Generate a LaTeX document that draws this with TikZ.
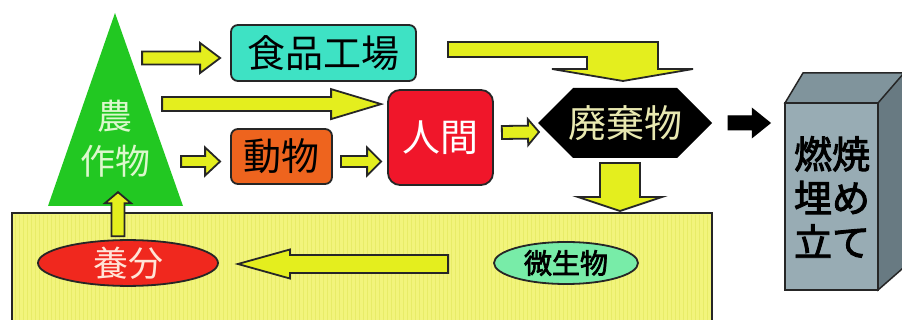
\documentclass[tikz,border=0pt]{standalone}
\usepackage{fontspec}
\setmainfont{Noto Sans CJK JP}
\newfontfamily\jpb[FakeBold=2.5]{Noto Sans CJK JP}
\usetikzlibrary{calc,shapes.geometric}
\definecolor{arry}{RGB}{228,238,30}
\definecolor{soilc}{RGB}{242,244,124}
\definecolor{stripec}{RGB}{232,236,104}
\definecolor{cropc}{RGB}{34,200,34}
\definecolor{croptxt}{RGB}{220,248,205}
\definecolor{foodc}{RGB}{62,226,196}
\definecolor{animc}{RGB}{238,100,30}
\definecolor{humc}{RGB}{240,22,42}
\definecolor{wastetxt}{RGB}{232,232,176}
\definecolor{nutrc}{RGB}{240,40,30}
\definecolor{nutrtxt}{RGB}{255,228,215}
\definecolor{microc}{RGB}{120,236,168}
\definecolor{boxfront}{RGB}{152,172,180}
\definecolor{boxtop}{RGB}{128,148,156}
\definecolor{boxside}{RGB}{104,122,130}
\tikzset{
  arrowstyle/.style={fill=arry,draw=black!85,line width=1.8pt,line join=miter},
  blackarrow/.style={fill=black,draw=black,line width=1pt},
  boxstyle/.style={draw=black!85,line width=1.8pt,rounded corners=7pt,inner sep=0pt},
  bigtext/.style={font=\fontsize{38}{40}\selectfont},
}
% block arrow: [style] {from} {to} {stem half} {head half} {head length}
\newcommand\barrow[6][arrowstyle]{%
  \path let \p1=#2, \p2=#3, \n1={atan2(\y2-\y1,\x2-\x1)}, \n2={veclen(\x2-\x1,\y2-\y1)} in
    \pgfextra{\xdef\barang{\n1}\xdef\barlen{\n2}\xdef\barx{\x1}\xdef\bary{\y1}};
  \filldraw[#1,shift={(\barx,\bary)},rotate=\barang]
    (0,#4) -- ({\barlen-#6},#4) -- ({\barlen-#6},#5) -- (\barlen,0)
    -- ({\barlen-#6},-#5) -- ({\barlen-#6},-#4) -- (0,-#4) -- cycle;
}
\begin{document}
\begin{tikzpicture}[x=1pt,y=-1pt]
\useasboundingbox (0,0) rectangle (902,320);
\fill[white] (0,0) rectangle (902,320);
\begin{scope}
\clip (0,0) rectangle (902,320);

% crop triangle
\coordinate (apex) at (115,13);
\coordinate (cbl) at (48,206);
\coordinate (cbr) at (183,206);
\fill[cropc] (apex) -- (cbr) -- (cbl) -- cycle;
\node[bigtext,text=croptxt,font=\fontsize{35}{45}\selectfont,align=center] (crop) at (115,139) {農\\作物};

% soil box
\fill[soilc] (12,213) rectangle (712,330);
\foreach \i in {15,19,...,710} \draw[stripec,line width=0.8pt] (\i,215) -- (\i,320);
\draw[black!85,line width=2pt] (12,330) -- (12,213) -- (712,213) -- (712,330);
\coordinate (soil) at (362,270);

% boxes
\node[boxstyle,fill=foodc,minimum width=185,minimum height=56,bigtext] (food) at (323.5,53) {食品工場};
\node[boxstyle,fill=animc,minimum width=101,minimum height=55,bigtext] (animal) at (281.5,156.5) {動物};
\node[boxstyle,fill=humc,minimum width=105,minimum height=95,rounded corners=12pt,bigtext,text=white] (human) at (440.5,137.5) {人間};

% waste hexagon
\coordinate (wc) at (625,123);
\fill[black] ($(wc)+(-87,0)$) -- ($(wc)+(-52,-35)$) -- ($(wc)+(52,-35)$) -- ($(wc)+(87,0)$)
  -- ($(wc)+(52,35)$) -- ($(wc)+(-52,35)$) -- cycle;
\node[bigtext,text=wastetxt] (waste) at (wc) {廃棄物};

% incineration / landfill block
\fill[boxtop,draw=black!85,line width=1.5pt] (785,103) -- (803,73) -- (910,73) -- (880,103) -- cycle;
\fill[boxside,draw=black!85,line width=1.5pt] (878,103) -- (910,66) -- (910,262) -- (878,290) -- cycle;
\node[fill=boxfront,draw=black!85,line width=1.5pt,minimum width=93,minimum height=187,inner sep=0pt] (burn) at (831.5,196.5) {};
\node[text=black,align=center,font=\jpb\fontsize{38}{44}\selectfont] (burntxt) at (832,197) {燃焼\\埋め\\立て};

% ellipses
\node[ellipse,fill=nutrc,draw=black!85,line width=1.8pt,minimum width=180,minimum height=42,inner sep=0pt,text=nutrtxt,font=\fontsize{35}{38}\selectfont] (nutr) at (128,263) {養分};
\node[ellipse,fill=microc,draw=black!85,line width=1.8pt,minimum width=144,minimum height=42,inner sep=0pt,font=\jpb\fontsize{28}{30}\selectfont] (micro) at (566,263) {微生物};

% arrows
\barrow{($(food.west)+(-88,5)$)}{($(food.west)+(-10,5)$)}{6.5}{15}{20}
\barrow{($(human.north west)+(-225,15)$)}{($(human.north west)+(-6,15)$)}{7}{15}{50}
\barrow{($(animal.west)+(-49,5)$)}{($(animal.west)+(-10,5)$)}{5.5}{14}{15}
\barrow{($(animal.east)+(8,5)$)}{($(human.west)+(-6,24)$)}{5.5}{14}{14}
\barrow{($(human.east)+(8,-5)$)}{($(wc)+(-86,9)$)}{6.5}{13}{11}
\barrow[blackarrow]{($(wc)+(103,0)$)}{($(burn.west)+(-14,-73.5)$)}{7}{14.5}{18}
\barrow{($(wc)+(-5,40)$)}{($(wc)+(-5,88)$)}{20}{42}{14}
\barrow{($(nutr.north)+(-10,-3)$)}{($(nutr.north)+(-10,-47)$)}{6.5}{13}{11}
\barrow{($(micro.west)+(-45,1)$)}{($(nutr.east)+(19,1)$)}{9}{14.5}{52}

% bent arrow food -> waste
\filldraw[arrowstyle] ($(food.east)+(31,-11)$) -- (658,42) -- (658,69) -- (693,69) -- ($(wc)+(-2,-42)$)
  -- (552,69) -- (587,69) -- (587,57) -- ($(food.east)+(31,4)$) -- cycle;
\end{scope}
\end{tikzpicture}
\end{document}
